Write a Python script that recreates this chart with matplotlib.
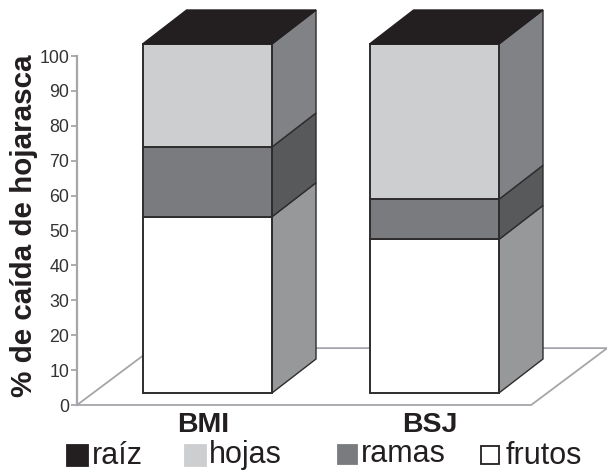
import matplotlib
matplotlib.use('Agg')
import matplotlib.pyplot as plt
from matplotlib.patches import Polygon, Rectangle

plt.rcParams['font.family'] = ['Liberation Sans', 'DejaVu Sans']

# values (% of litterfall)
sites = ['BMI', 'BSJ']
frutos = [50.5, 44.0]
ramas = [20.0, 11.5]
hojas = [29.5, 44.5]
raiz = [0.0, 0.0]
yticks = list(range(0, 101, 10))
legend_names = ['raíz', 'hojas', 'ramas', 'frutos']

W, H = 607, 471
front_cols = ['#ffffff', '#7a7b7e', '#cdced0']
side_cols = ['#97989a', '#58595b', '#808285']
edge = '#2e2c2d'
top_col = '#231f20'
axis_col = '#a4a6a9'

fig = plt.figure(figsize=(W / 100, H / 100), dpi=100)
ax = fig.add_axes([77 / W, (H - 405) / H, (W - 77) / W, 349 / H])
ax.set_xlim(-0.574, 1.761)
ax.set_ylim(0, 100)
ax.patch.set_visible(False)

# 3d offsets in data units
bar_w = 0.57
dx, dy = 0.194, 9.74
base = 3.44
floor_dx, floor_dy = 0.335, 16.3

# floor
floor = Polygon([(-0.574, 0), (1.427, 0), (1.427 + floor_dx, floor_dy), (-0.574 + floor_dx, floor_dy)],
                closed=True, fc='white', ec=axis_col, lw=1.3, clip_on=False, zorder=1)
ax.add_patch(floor)

for i, name in enumerate(sites):
    x0 = i - bar_w / 2
    x1 = i + bar_w / 2
    bottom = base
    for vals, fc, sc in zip([frutos, ramas, hojas], front_cols, side_cols):
        v = vals[i]
        ax.add_patch(Rectangle((x0, bottom), bar_w, v, fc=fc, ec=edge, lw=1.4, clip_on=False, zorder=3))
        ax.add_patch(Polygon([(x1, bottom), (x1 + dx, bottom + dy), (x1 + dx, bottom + v + dy), (x1, bottom + v)],
                             closed=True, fc=sc, ec=edge, lw=1.0, clip_on=False, zorder=2))
        bottom += v
    bottom += raiz[i]
    ax.add_patch(Polygon([(x0, bottom), (x1, bottom), (x1 + dx, bottom + dy), (x0 + dx, bottom + dy)],
                         closed=True, fc=top_col, ec=top_col, lw=1.0, clip_on=False, zorder=3))

for s in ['top', 'right', 'bottom']:
    ax.spines[s].set_visible(False)
ax.spines['left'].set_color(axis_col)
ax.spines['left'].set_linewidth(1.6)
ax.set_yticks(yticks)
ax.tick_params(axis='y', colors=axis_col, length=4, width=1.3, pad=1.5, labelsize=12.8, labelcolor='#333333')
ax.set_xticks([-0.02, 0.98])
ax.set_xticklabels(sites, fontsize=20.5, fontweight='bold', color='#231f20')
ax.tick_params(axis='x', length=0, pad=5)

fig.text(24 / W, 1 - 226 / H, '% de caída de hojarasca', rotation=90, fontsize=21.3, fontweight='bold',
         color='#231f20', ha='center', va='center')

# hand placed legend, entries are not aligned in the original
leg_cols = [top_col, '#cdced0', '#7a7b7e', '#ffffff']
leg_box = [(67, 445, 21), (185, 445, 21), (338, 445, 19), (481, 446, 18)]
leg_text = [(92, 464), (209, 463.5), (361, 462), (506, 464)]
for name, fc, (bx, by, bs), (tx, ty) in zip(legend_names, leg_cols, leg_box, leg_text):
    fig.add_artist(Rectangle((bx / W, 1 - (by + bs) / H), bs / W, bs / H, transform=fig.transFigure,
                             fc=fc, ec='#231f20' if fc == '#ffffff' else fc, lw=1.3))
    fig.text(tx / W, 1 - ty / H, name, fontsize=22, color='#231f20', ha='left', va='baseline')

fig.savefig('out.png', dpi=100)
